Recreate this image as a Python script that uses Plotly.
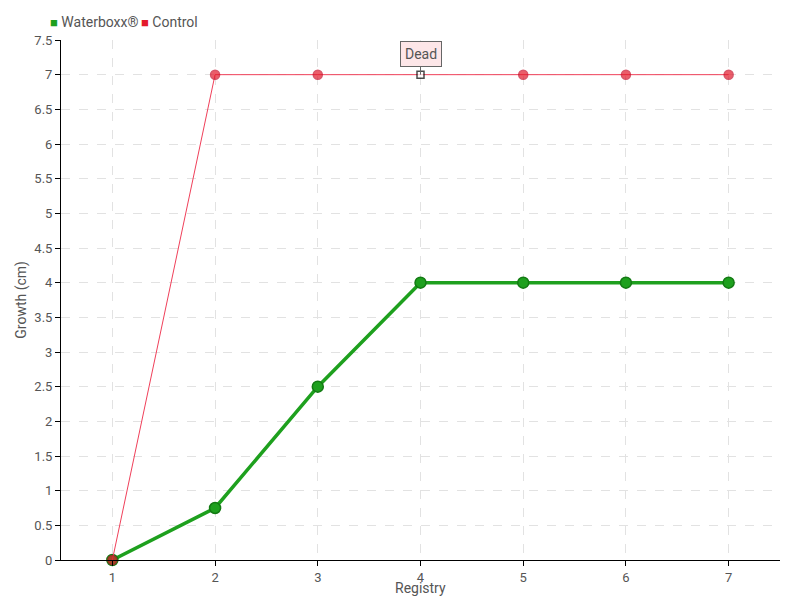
import plotly.graph_objects as go

registry = [1, 2, 3, 4, 5, 6, 7]
waterboxx = [0, 0.75, 2.5, 4, 4, 4, 4]
control = [0, 7, 7, 7, 7, 7, 7]
y_ticks = [0, 0.5, 1, 1.5, 2, 2.5, 3, 3.5, 4, 4.5, 5, 5.5, 6, 6.5, 7, 7.5]
dead_at = 4

FONT = "Roboto, sans-serif"
GREEN = "#1ea01e"
RED = "#e31a2b"
TEXT = "#555555"

fig = go.Figure()

fig.add_trace(go.Scatter(
    x=registry, y=waterboxx, mode="lines+markers", name="Waterboxx®",
    line=dict(color=GREEN, width=3.5),
    marker=dict(size=11, color=GREEN, line=dict(color="#137a13", width=1.5)),
    showlegend=False, cliponaxis=False,
))

ctrl_symbols = ["square" if r == dead_at else "circle" for r in registry]
ctrl_colors = ["white" if r == dead_at else RED for r in registry]
ctrl_sizes = [7 if r == dead_at else 9 for r in registry]
ctrl_lines = ["black" if r == dead_at else "#c8102a" for r in registry]
fig.add_trace(go.Scatter(
    x=registry, y=control, mode="lines+markers", name="Control",
    line=dict(color="#f0405a", width=1),
    marker=dict(size=ctrl_sizes, color=ctrl_colors, symbol=ctrl_symbols,
                line=dict(color=ctrl_lines, width=1.5)),
    showlegend=False, cliponaxis=False,
))

# legend drawn as text so swatches sit tight against the labels
for name, col, xpos in [("Waterboxx®", GREEN, -0.018), ("Control", RED, 0.109)]:
    fig.add_annotation(
        xref="paper", yref="paper", x=xpos, y=1.035,
        xanchor="left", yanchor="middle", showarrow=False,
        text=f"<span style='color:{col};font-size:13px'>■</span> {name}",
        font=dict(family=FONT, size=14, color=TEXT),
    )

# axis titles sit tight against the tick labels
fig.add_annotation(
    xref="paper", yref="paper", x=0.5, y=-0.053, xanchor="center", yanchor="middle",
    showarrow=False, text="Registry", font=dict(family=FONT, size=14, color=TEXT),
)
fig.add_annotation(
    xref="paper", yref="paper", x=-0.056, y=0.5, xanchor="center", yanchor="middle",
    showarrow=False, text="Growth (cm)", textangle=-90,
    font=dict(family=FONT, size=14, color=TEXT),
)

fig.add_annotation(
    x=dead_at, y=control[registry.index(dead_at)], text="Dead",
    showarrow=True, arrowhead=0, arrowwidth=1, arrowcolor="#666666",
    ax=0, ay=-21, bgcolor="#fde6e8", bordercolor="#666666", borderwidth=1,
    borderpad=4, font=dict(family=FONT, size=14, color=TEXT),
)

axis_common = dict(
    showgrid=True, gridcolor="#e2e2e2", griddash="dash", gridwidth=1,
    showline=True, linecolor="black", linewidth=1,
    ticks="outside", ticklen=5, tickcolor="black",
    tickfont=dict(family=FONT, size=13, color=TEXT),
    zeroline=False, automargin=False,
)

# page body has an 8px margin, so offsets below are shifted by 8px
fig.update_layout(
    width=800, height=600,
    paper_bgcolor="white", plot_bgcolor="white",
    margin=dict(l=53, r=28, t=32, b=48, autoexpand=False),
    font=dict(family=FONT, size=14, color=TEXT),
    showlegend=False,
    xaxis=dict(range=[0.5, 7.5], tickvals=registry, **axis_common),
    yaxis=dict(range=[0, 7.5], tickvals=y_ticks, **axis_common),
)

fig.write_html("out.html")
